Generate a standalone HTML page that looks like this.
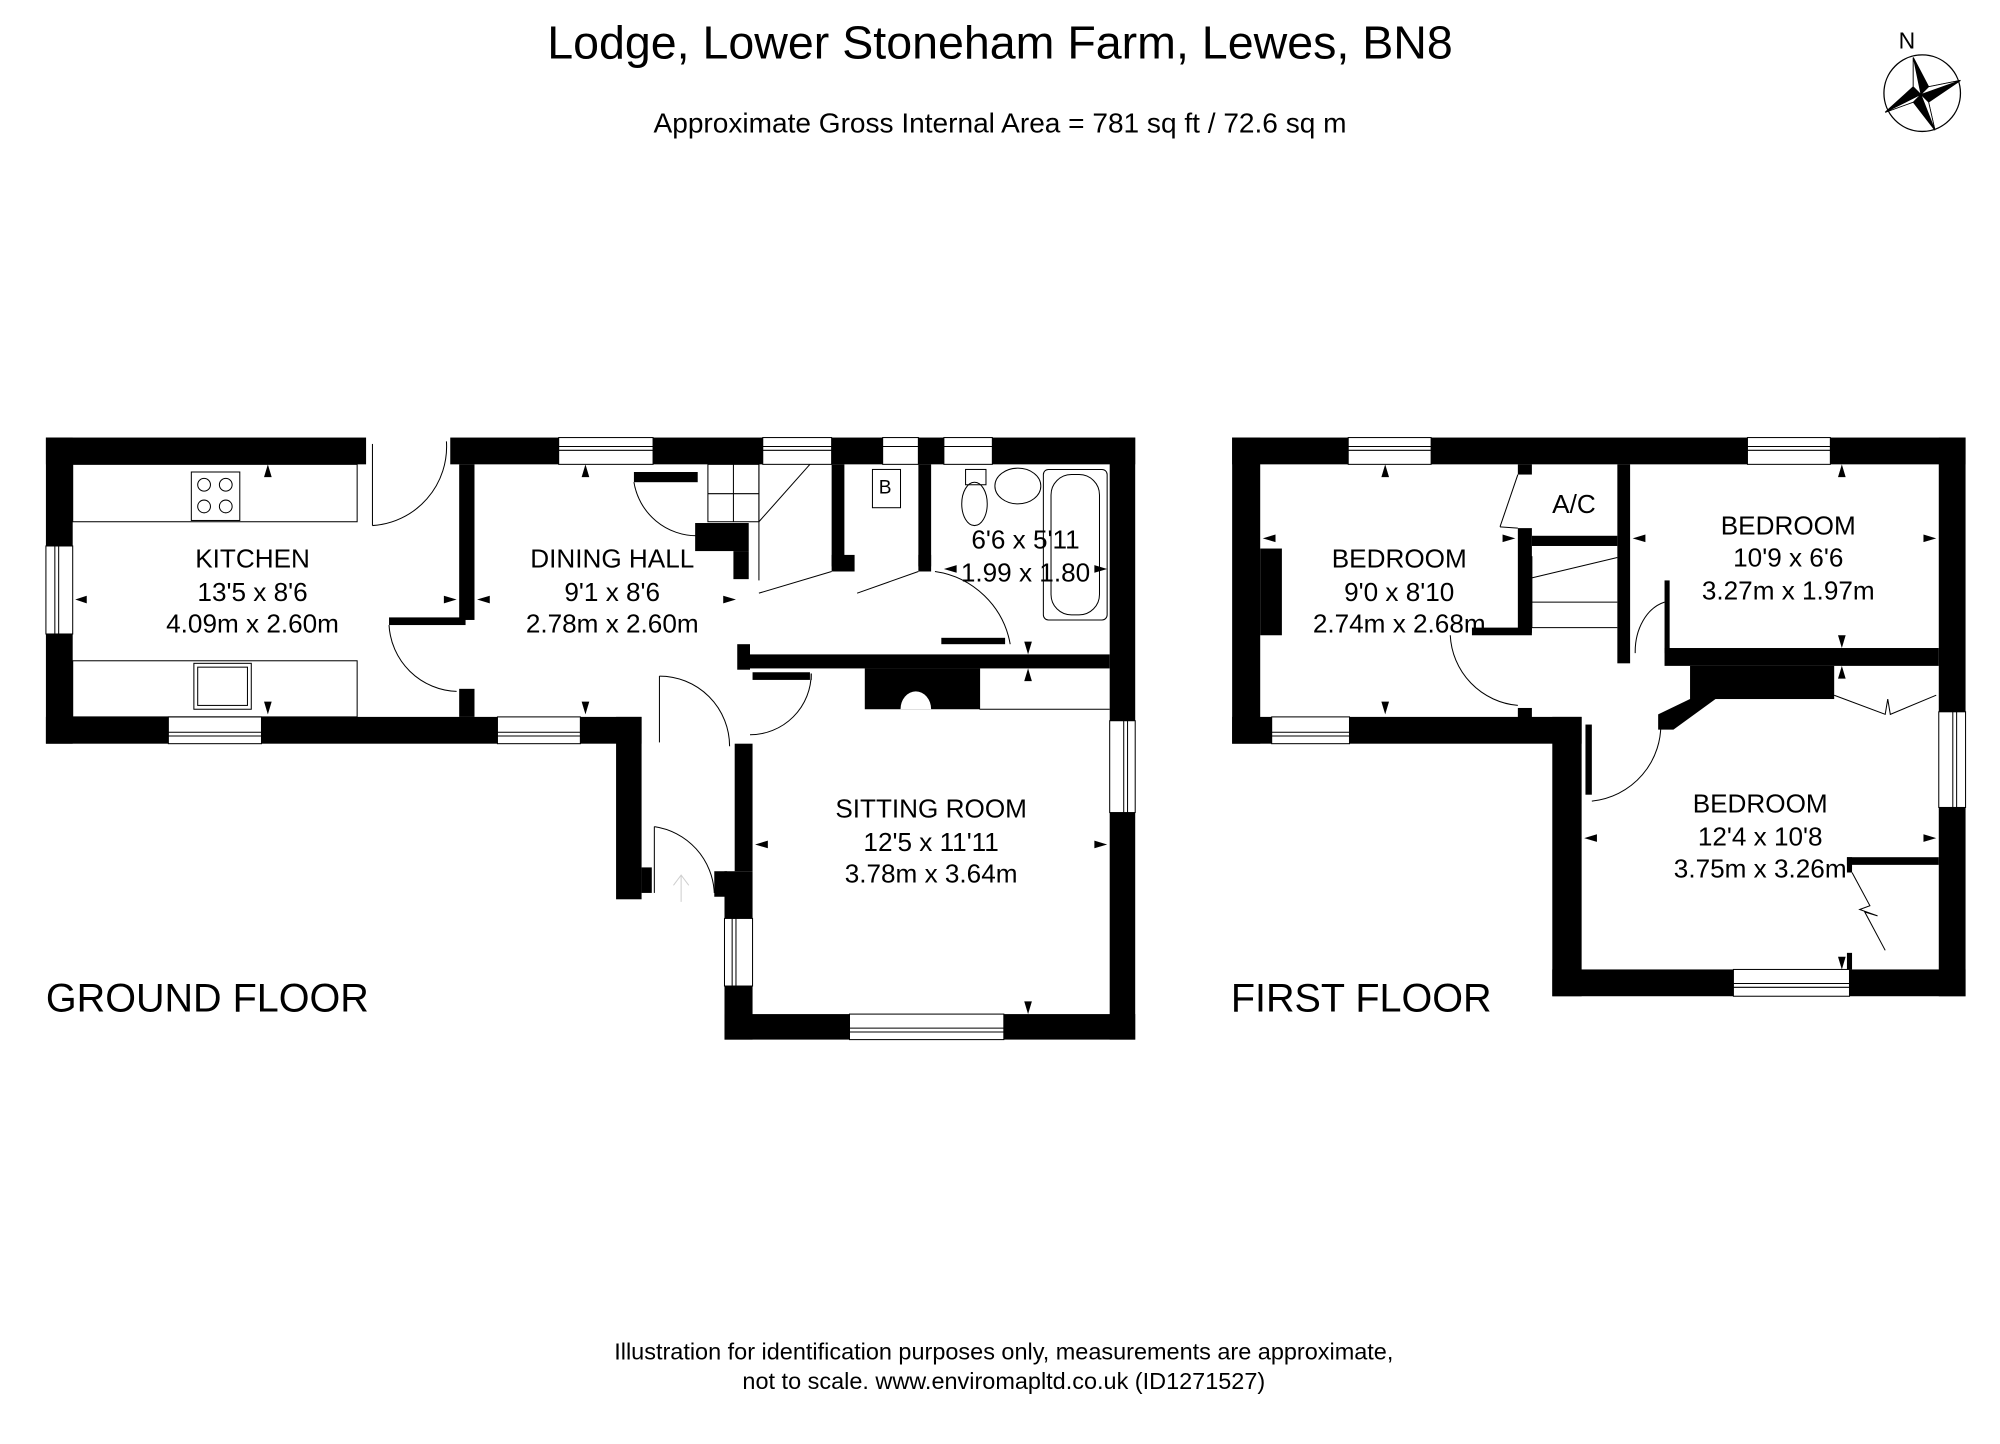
<!DOCTYPE html>
<html><head><meta charset="utf-8"><style>
html,body{margin:0;padding:0;background:#fff}
svg{display:block}
text{font-family:"Liberation Sans",sans-serif;fill:#000}
</style></head><body>
<svg width="2000" height="1444" viewBox="0 0 1568 1132" xmlns="http://www.w3.org/2000/svg">
<rect width="1568" height="1132" fill="#fff"/>
<text x="784" y="46" font-size="36.5" text-anchor="middle">Lodge, Lower Stoneham Farm, Lewes, BN8</text>
<text x="784" y="104" font-size="22" text-anchor="middle">Approximate Gross Internal Area = 781 sq ft / 72.6 sq m</text>
<!-- compass -->
<text x="1495" y="38" font-size="18" text-anchor="middle">N</text>
<circle cx="1507" cy="73" r="30" fill="none" stroke="#000" stroke-width="1"/>
<polygon points="1500,45 1512,68 1537,63 1512,80 1517,102 1500,80 1478,88 1500,68" fill="#000" stroke="#000" stroke-width="0.8"/>
<polygon points="1500,45 1506,74 1500,68" fill="#fff" stroke="#000" stroke-width="0.6"/>
<polygon points="1537,63 1506,74 1512,68" fill="#fff" stroke="#000" stroke-width="0.6"/>
<polygon points="1517,102 1506,74 1512,80" fill="#fff" stroke="#000" stroke-width="0.6"/>
<polygon points="1478,88 1506,74 1500,80" fill="#fff" stroke="#000" stroke-width="0.6"/>

<g fill="#000">
<!-- GROUND FLOOR walls -->
<rect x="36" y="343" width="251" height="21"/>
<rect x="36" y="343" width="21" height="85"/>
<rect x="36" y="497" width="21" height="86"/>
<rect x="36" y="562" width="96" height="21"/>
<rect x="205" y="562" width="185" height="21"/>
<rect x="455" y="562" width="48" height="21"/>
<rect x="483" y="562" width="20" height="143"/>
<rect x="503" y="680" width="8" height="20"/>
<rect x="353" y="343" width="85" height="21"/>
<rect x="512" y="343" width="86" height="21"/>
<rect x="652" y="343" width="40" height="21"/>
<rect x="720" y="343" width="20" height="21"/>
<rect x="778" y="343" width="112" height="21"/>
<rect x="870" y="343" width="20" height="222"/>
<rect x="870" y="637" width="20" height="178"/>
<rect x="787" y="795" width="103" height="20"/>
<rect x="568" y="795" width="98" height="20"/>
<rect x="568" y="773" width="22" height="42"/>
<rect x="568" y="683" width="22" height="37"/>
<rect x="576" y="583" width="14" height="100"/>
<rect x="560" y="683" width="10" height="20"/>
<!-- interior -->
<rect x="360" y="364" width="12" height="122"/>
<rect x="305" y="484" width="60" height="6"/>
<rect x="360" y="540" width="12" height="22"/>
<rect x="497" y="370" width="50" height="8"/>
<rect x="545" y="410" width="42" height="22"/>
<rect x="575" y="432" width="12" height="22"/>
<rect x="652" y="364" width="10" height="80"/>
<rect x="652" y="435" width="18" height="13"/>
<rect x="720" y="364" width="10" height="80"/>
<rect x="720" y="435" width="10" height="13"/>
<rect x="580" y="513" width="290" height="11"/>
<rect x="578" y="505" width="10" height="20"/>
<rect x="590" y="527" width="45" height="6"/>
<rect x="678" y="524" width="90" height="32"/>
<rect x="738" y="500" width="50" height="5"/>
<!-- FIRST FLOOR -->
<rect x="966" y="343" width="91" height="21"/>
<rect x="1122" y="343" width="248" height="21"/>
<rect x="1435" y="343" width="106" height="21"/>
<rect x="966" y="343" width="22" height="240"/>
<rect x="966" y="562" width="31" height="21"/>
<rect x="1058" y="562" width="182" height="21"/>
<rect x="1217" y="562" width="23" height="219"/>
<rect x="1217" y="760" width="142" height="21"/>
<rect x="1450" y="760" width="91" height="21"/>
<rect x="1520" y="343" width="21" height="215"/>
<rect x="1520" y="633" width="21" height="148"/>
<rect x="988" y="430" width="17" height="68"/>
<rect x="1190" y="364" width="11" height="8"/>
<rect x="1190" y="414" width="11" height="82"/>
<rect x="1201" y="420" width="67" height="8"/>
<rect x="1154" y="492" width="47" height="6"/>
<rect x="1190" y="555" width="11" height="8"/>
<rect x="1268" y="364" width="10" height="156"/>
<rect x="1305" y="455" width="4" height="57"/>
<rect x="1305" y="508" width="215" height="14"/>
<rect x="1325" y="522" width="113" height="26"/>
<polygon points="1325,548 1345,548 1312,572 1300,572 1300,560"/>
<rect x="1243" y="568" width="5" height="55"/>
<rect x="1448" y="672" width="72" height="6"/>
<rect x="1448" y="672" width="4" height="12"/>
<rect x="1448" y="747" width="4" height="13"/>
</g>
<!-- chimney opening -->
<path d="M706,556 A12,14 0 0 1 730,556 Z" fill="#fff"/>
<!-- windows -->
<g fill="#fff" stroke="#000" stroke-width="0.8">
<rect x="438" y="343" width="74" height="21"/><line x1="438" y1="350" x2="512" y2="350"/><line x1="438" y1="353" x2="512" y2="353"/>
<rect x="598" y="343" width="54" height="21"/><line x1="598" y1="350" x2="652" y2="350"/><line x1="598" y1="353" x2="652" y2="353"/>
<rect x="692" y="343" width="28" height="21"/><line x1="692" y1="350" x2="720" y2="350"/>
<rect x="740" y="343" width="38" height="21"/><line x1="740" y1="350" x2="778" y2="350"/>
<rect x="132" y="562" width="73" height="21"/><line x1="132" y1="574" x2="205" y2="574"/><line x1="132" y1="577" x2="205" y2="577"/>
<rect x="390" y="562" width="65" height="21"/><line x1="390" y1="574" x2="455" y2="574"/><line x1="390" y1="577" x2="455" y2="577"/>
<rect x="36" y="428" width="21" height="69"/><line x1="43" y1="428" x2="43" y2="497"/><line x1="46" y1="428" x2="46" y2="497"/>
<rect x="870" y="565" width="20" height="72"/><line x1="881" y1="565" x2="881" y2="637"/><line x1="884" y1="565" x2="884" y2="637"/>
<rect x="568" y="720" width="22" height="53"/><line x1="574" y1="720" x2="574" y2="773"/><line x1="577" y1="720" x2="577" y2="773"/>
<rect x="666" y="795" width="121" height="20"/><line x1="666" y1="806" x2="787" y2="806"/><line x1="666" y1="809" x2="787" y2="809"/>
<rect x="1057" y="343" width="65" height="21"/><line x1="1057" y1="350" x2="1122" y2="350"/><line x1="1057" y1="353" x2="1122" y2="353"/>
<rect x="1370" y="343" width="65" height="21"/><line x1="1370" y1="350" x2="1435" y2="350"/><line x1="1370" y1="353" x2="1435" y2="353"/>
<rect x="997" y="562" width="61" height="21"/><line x1="997" y1="574" x2="1058" y2="574"/><line x1="997" y1="577" x2="1058" y2="577"/>
<rect x="1359" y="760" width="91" height="21"/><line x1="1359" y1="771" x2="1450" y2="771"/><line x1="1359" y1="774" x2="1450" y2="774"/>
<rect x="1520" y="558" width="21" height="75"/><line x1="1531" y1="558" x2="1531" y2="633"/><line x1="1534" y1="558" x2="1534" y2="633"/>
</g>
<!-- fixtures, doors -->
<g fill="none" stroke="#000" stroke-width="0.8">
<rect x="57" y="364" width="223" height="45"/>
<rect x="57" y="518" width="223" height="44"/>
<rect x="150" y="370" width="38" height="38"/>
<circle cx="160" cy="380" r="5"/><circle cx="177" cy="380" r="5"/><circle cx="160" cy="397" r="5"/><circle cx="177" cy="397" r="5"/>
<rect x="152" y="520" width="45" height="36"/><rect x="155" y="523" width="39" height="30"/>
<line x1="292" y1="348" x2="292" y2="412"/><path d="M292,412 A62,62 0 0 0 350,346"/>
<path d="M305,490 A55,55 0 0 0 358,542"/>
<path d="M497,378 A50,50 0 0 0 547,420"/>
<rect x="555" y="364" width="40" height="45"/><line x1="575" y1="364" x2="575" y2="409"/><line x1="555" y1="387" x2="595" y2="387"/>
<line x1="595" y1="409" x2="635" y2="364"/><line x1="595" y1="364" x2="595" y2="455"/>
<line x1="595" y1="465" x2="652" y2="448"/>
<line x1="672" y1="465" x2="720" y2="448"/>
<rect x="684" y="368" width="22" height="30"/>
<ellipse cx="764" cy="395" rx="10" ry="17"/><rect x="757" y="368" width="16" height="12"/>
<ellipse cx="798" cy="381" rx="18" ry="14"/>
<rect x="818" y="368" width="50" height="118" rx="4"/><rect x="824" y="372" width="38" height="110" rx="16"/>
<path d="M733,448 A70,70 0 0 1 792,505"/>
<path d="M517,530 A55,55 0 0 1 572,585"/><line x1="517" y1="530" x2="517" y2="582"/>
<path d="M636,528 A48,48 0 0 1 588,576"/><line x1="636" y1="528" x2="636" y2="533"/>
<path d="M513,648 A55,55 0 0 1 560,700"/><line x1="513" y1="648" x2="513" y2="700"/>
<line x1="768" y1="524" x2="768" y2="556"/><line x1="768" y1="556" x2="870" y2="556"/>
<line x1="1190" y1="372" x2="1176" y2="413"/><line x1="1176" y1="413" x2="1190" y2="414"/>
<line x1="1201" y1="453" x2="1268" y2="437"/><line x1="1201" y1="472" x2="1268" y2="472"/><line x1="1201" y1="492" x2="1268" y2="492"/><line x1="1201" y1="436" x2="1201" y2="492"/>
<path d="M1137,498 A58,58 0 0 0 1190,553"/>
<path d="M1305,472 A30,40 0 0 0 1282,512"/>
<path d="M1302,565 A60,60 0 0 1 1248,628"/>
<polyline points="1438,545 1478,560 1480,548 1482,560 1518,545"/>
<polyline points="1452,684 1466,710 1458,713 1472,718 1462,715 1478,745"/>
</g>
<g stroke="#cfcfcf" fill="none" stroke-width="0.8"><path d="M534,707 L534,686 M528,694 L534,686 L540,694"/></g>
<!-- tiny measure arrows -->
<g fill="#000">
<polygon points="210,364 207,374 213,374"/><polygon points="210,560 207,550 213,550"/>
<polygon points="59,470 68,467 68,473"/><polygon points="358,470 348,467 348,473"/>
<polygon points="374,470 384,467 384,473"/><polygon points="577,470 567,467 567,473"/>
<polygon points="459,364 456,374 462,374"/><polygon points="459,560 456,550 462,550"/>
<polygon points="740,446 750,443 750,449"/><polygon points="868,446 858,443 858,449"/>
<polygon points="806,524 803,534 809,534"/><polygon points="806,513 803,503 809,503"/>
<polygon points="592,662 602,659 602,665"/><polygon points="868,662 858,659 858,665"/>
<polygon points="806,795 803,785 809,785"/>
<polygon points="1086,364 1083,374 1089,374"/><polygon points="1086,560 1083,550 1089,550"/>
<polygon points="990,422 1000,419 1000,425"/><polygon points="1188,422 1178,419 1178,425"/>
<polygon points="1280,422 1290,419 1290,425"/><polygon points="1518,422 1508,419 1508,425"/>
<polygon points="1444,364 1441,374 1447,374"/><polygon points="1444,508 1441,498 1447,498"/>
<polygon points="1444,522 1441,532 1447,532"/>
<polygon points="1242,657 1252,654 1252,660"/><polygon points="1518,657 1508,654 1508,660"/>
<polygon points="1444,760 1441,750 1447,750"/>
</g>
<g font-size="20.5" text-anchor="middle">
<text x="198" y="445">KITCHEN</text><text x="198" y="471">13'5 x 8'6</text><text x="198" y="496">4.09m x 2.60m</text>
<text x="480" y="445">DINING HALL</text><text x="480" y="471">9'1 x 8'6</text><text x="480" y="496">2.78m x 2.60m</text>
<text x="694" y="387" font-size="15">B</text>
<text x="804" y="430">6'6 x 5'11</text><text x="804" y="456">1.99 x 1.80</text>
<text x="730" y="641">SITTING ROOM</text><text x="730" y="667">12'5 x 11'11</text><text x="730" y="692">3.78m x 3.64m</text>
<text x="1097" y="445">BEDROOM</text><text x="1097" y="471">9'0 x 8'10</text><text x="1097" y="496">2.74m x 2.68m</text>
<text x="1234" y="402">A/C</text>
<text x="1402" y="419">BEDROOM</text><text x="1402" y="444">10'9 x 6'6</text><text x="1402" y="470">3.27m x 1.97m</text>
<text x="1380" y="637">BEDROOM</text><text x="1380" y="663">12'4 x 10'8</text><text x="1380" y="688">3.75m x 3.26m</text>
</g>
<text x="36" y="793" font-size="31">GROUND FLOOR</text>
<text x="965" y="793" font-size="31">FIRST FLOOR</text>
<text x="787" y="1066" font-size="18.4" text-anchor="middle">Illustration for identification purposes only, measurements are approximate,</text>
<text x="787" y="1089" font-size="18.4" text-anchor="middle">not to scale. www.enviromapltd.co.uk (ID1271527)</text>
</svg>
</body></html>
